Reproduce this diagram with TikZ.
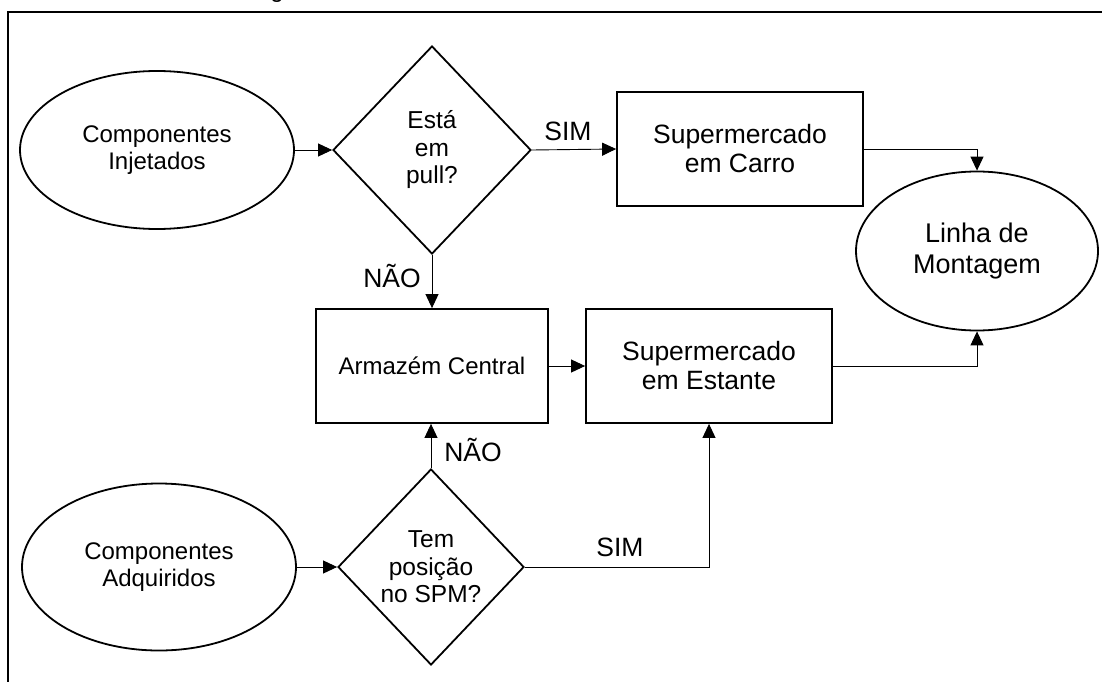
\documentclass[tikz,border=0pt]{standalone}
\usepackage{fontspec}
\setmainfont{Liberation Sans}
\usetikzlibrary{shapes.geometric,arrows.meta}
\begin{document}
\begin{tikzpicture}[x=1pt,y=-1pt,
  shape border/.style={draw, line width=1.8pt, inner sep=0pt, align=center},
  oval/.style={shape border, ellipse},
  stepbox/.style={shape border, rectangle},
  decision/.style={shape border, diamond},
  flow/.style={line width=0.9pt, -{Triangle[length=14pt,width=13pt]}},
  lbl/.style={font=\fontsize{26.5}{30}\selectfont, anchor=base, inner sep=0pt}]
  \useasboundingbox (0,0) rectangle (1102,682);
  \clip (0,0) rectangle (1102,682);

  % caption fragment and frame
  \node[font=\fontsize{24}{28}\selectfont, anchor=base, inner sep=0pt] (cap) at (277,-2) {g};
  \draw[line width=2pt] (8,720) -- (8,12) -- (1130,12);

  % sources
  \node[oval, minimum width=274, minimum height=158, font=\fontsize{24}{27.5}\selectfont]
    (inj) at (157,150) {Componentes\\Injetados};
  \node[oval, minimum width=274, minimum height=167, font=\fontsize{24}{27.5}\selectfont]
    (adq) at (159,567) {Componentes\\Adquiridos};

  % decisions
  \node[decision, minimum width=198, minimum height=208, font=\fontsize{24.5}{27.5}\selectfont]
    (pull) at (432,150) {Está\\em\\pull?};
  \node[decision, minimum width=186, minimum height=196, font=\fontsize{24.5}{27.5}\selectfont]
    (spm) at (431,567) {Tem\\posição\\no SPM?};

  % storage
  \node[stepbox, minimum width=246, minimum height=114, font=\fontsize{26.5}{29}\selectfont]
    (carro) at (740,149) {Supermercado\\em Carro};
  \node[stepbox, minimum width=232, minimum height=114, font=\fontsize{24}{27}\selectfont]
    (arm) at (432,366) {Armazém Central};
  \node[stepbox, minimum width=246, minimum height=114, font=\fontsize{26.5}{29}\selectfont]
    (est) at (709,366) {Supermercado\\em Estante};

  % destination
  \node[oval, minimum width=242, minimum height=159, font=\fontsize{27}{30.5}\selectfont]
    (linha) at (977,251) {Linha de\\Montagem};

  % connectors
  \draw[flow] (inj.east) -- (pull.west);
  \draw[flow] (pull.east) -- (carro.west);
  \draw[flow] (carro.east) -| (linha.north);
  \draw[flow] (pull.south) -- (arm.north);
  \draw[flow] (arm.east) -- (est.west);
  \draw[flow] (est.east) -| (linha.south);
  \draw[flow] (adq.east) -- (spm.west);
  \draw[flow] (spm.north) -- (spm.north |- arm.south);
  \draw[flow] (spm.east) -| (est.south);

  % branch labels
  \node[lbl] (sim1) at (568,140) {SIM};
  \node[lbl] (nao1) at (392,287) {NÃO};
  \node[lbl] (nao2) at (473,461) {NÃO};
  \node[lbl] (sim2) at (620,556) {SIM};
\end{tikzpicture}
\end{document}
